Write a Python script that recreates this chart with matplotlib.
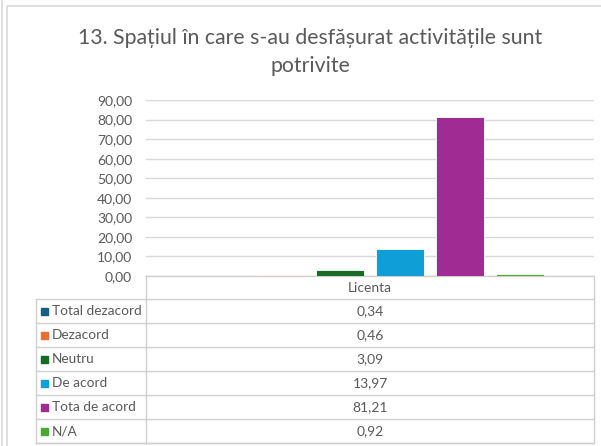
import matplotlib.pyplot as plt
from matplotlib.patches import Rectangle

plt.rcParams['font.family'] = ['Lato', 'DejaVu Sans']

# data
categories = ['Total dezacord', 'Dezacord', 'Neutru', 'De acord', 'Tota de acord', 'N/A']
values = [0.34, 0.46, 3.09, 13.97, 81.21, 0.92]
colors = ['#156082', '#E97132', '#196B24', '#0F9ED5', '#A02B93', '#4EA72E']
group = 'Licenta'
yticks = [0, 10, 20, 30, 40, 50, 60, 70, 80, 90]
title = '13. Spațiul în care s-au desfășurat activitățile sunt\npotrivite'

W, H = 601, 446
txt = '#595959'
line = '#D9D9D9'

fig = plt.figure(figsize=(W / 100, H / 100), dpi=100)

def fx(px):
    return px / W

def fy(py):
    return 1 - py / H

# background layer in pixel coordinates (frame + table)
bg = fig.add_axes([0, 0, 1, 1])
bg.set_xlim(0, W)
bg.set_ylim(H, 0)
bg.axis('off')
bg.add_patch(Rectangle((7, 6), 620, 460, fill=False, ec=line, lw=1.2))
bg.plot([2, 2], [0, H], color=line, lw=1.2)

bg.text(310, 52, title, ha='center', va='center', fontsize=15.3, color=txt,
        linespacing=1.45)

# plot area
left, right, top, bottom = 146, 594, 100, 276
ax = fig.add_axes([fx(left), fy(bottom), fx(right) - fx(left), fy(top) - fy(bottom)])
n = len(values)
x = list(range(n))
ax.bar(x, values, width=0.8, color=colors, edgecolor='white', linewidth=0.6, zorder=3)
half = (right - left) / 60 / 2
ax.set_xlim((n - 1) / 2 - half, (n - 1) / 2 + half)
ax.set_ylim(0, 90)
ax.set_yticks(yticks)
ax.set_yticklabels([f"{v:.2f}".replace('.', ',') for v in yticks], color=txt, fontsize=10)
ax.set_xticks([])
ax.tick_params(axis='y', length=0, pad=10)
ax.grid(axis='y', color=line, lw=1, zorder=0)
for s in ax.spines.values():
    s.set_visible(False)
ax.patch.set_alpha(0)

# data table
tl = '#D0D0D0'
row_h = 24
head_top, head_bot = 276, 299
tab_left = 36
tab_bot = head_bot + row_h * n
bg.plot([left, right, right, left, left], [head_top, head_top, tab_bot, tab_bot, head_top], color=tl, lw=1)
bg.plot([tab_left, tab_left], [head_bot, tab_bot], color=tl, lw=1)
bg.plot([tab_left, left], [tab_bot, tab_bot], color=tl, lw=1)
for i in range(n + 1):
    yy = head_bot + row_h * i
    bg.plot([tab_left, right], [yy, yy], color=tl, lw=1)
bg.text((left + right) / 2, (head_top + head_bot) / 2, group, ha='center', va='center',
        fontsize=10, color=txt)
for i, (c, v, col) in enumerate(zip(categories, values, colors)):
    yc = head_bot + row_h * i + row_h / 2
    bg.add_patch(Rectangle((41, yc - 3.5), 7, 7, color=col))
    bg.text(52, yc, c, ha='left', va='center', fontsize=9.8, color=txt)
    bg.text((left + right) / 2, yc, f"{v:.2f}".replace('.', ','), ha='center', va='center',
            fontsize=10, color=txt)

fig.savefig('out.png', dpi=100, facecolor='white')
